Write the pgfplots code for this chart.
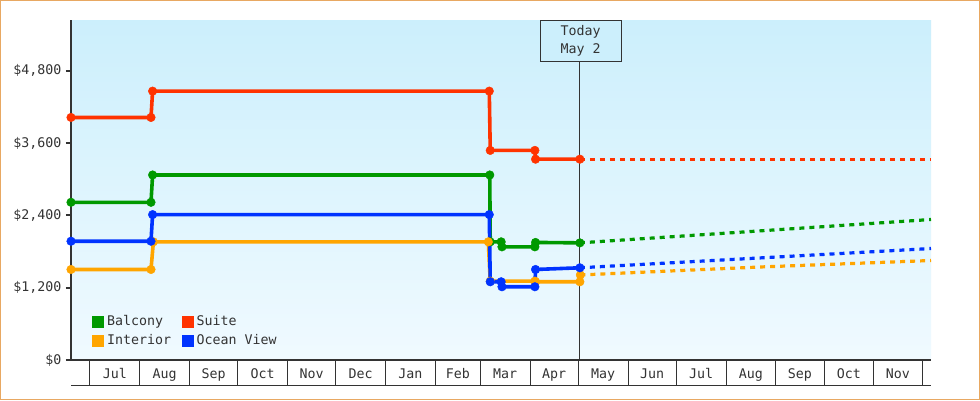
\documentclass[border=0pt]{standalone}
\usepackage{fontspec}
\setmainfont{DejaVu Sans Mono}
\usepackage{pgfplots}
\usepackage{pgfplotstable}
\pgfplotsset{compat=1.18}

\definecolor{axcol}{HTML}{333333}
\definecolor{cgreen}{HTML}{009900}
\definecolor{cred}{HTML}{FF3300}
\definecolor{corange}{HTML}{FFA500}
\definecolor{cblue}{HTML}{0033FF}
\definecolor{bgtop}{HTML}{CCEFFC}
\definecolor{bgbot}{HTML}{F0FAFF}
\definecolor{framecol}{HTML}{E8A862}
\newcommand\fs{\fontsize{13.3}{18}\selectfont}

% x = days since Jul 1, y = price in dollars
\pgfplotstableread{
x y
-11.8 2618
38 2618
39 3072
248.9 3072
249.2 1962
256 1962
256.5 1879
277 1879
277.4 1952
305 1945
}\balcony
\pgfplotstableread{
x y
-11.8 4027
38 4027
39 4464
248.6 4464
249.2 3480
277 3480
277.4 3334
305 3334
}\suite
\pgfplotstableread{
x y
-11.8 1503
38 1503
39.5 1962
248 1962
249.2 1309
277 1309
277.4 1299
305 1299
305.3 1412
}\interior
\pgfplotstableread{
x y
-11.8 1972
38 1972
39 2414
248.6 2414
249.2 1299
256 1299
256.5 1216
277 1216
277.4 1503
305 1531
}\ocean
% projections after today
\pgfplotstableread{
x y
305 1945
411 2133
523.6 2333
}\balconyp
\pgfplotstableread{
x y
305 3334
523.6 3334
}\suitep
\pgfplotstableread{
x y
305.3 1412
418 1545
523.6 1652
}\interiorp
\pgfplotstableread{
x y
305 1531
429.6 1713
523.6 1851
}\oceanp

\begin{document}
\fs
\begin{tikzpicture}
\fill[white] (0,0) rectangle (980pt,400pt);
\draw[framecol, line width=1pt] (0.5pt,0.5pt) rectangle (979.5pt,399.5pt);

% month band under the plot
\begin{axis}[
    at={(71pt,15pt)}, anchor=south west,
    scale only axis, width=860pt, height=25pt,
    xmin=-11.8, xmax=523.6, ymin=0, ymax=1,
    axis x line=bottom, axis y line=none,
    axis line style={-, line width=1pt, draw=axcol},
    xtick={0,31,62,92,123,153,184,215,243,274,304,335,365,396,427,457,488,518},
    xticklabels={Jul,Aug,Sep,Oct,Nov,Dec,Jan,Feb,Mar,Apr,May,Jun,Jul,Aug,Sep,Oct,Nov},
    x tick label as interval,
    tick align=inside, major tick length=25pt,
    xtick style={line width=1pt, draw=axcol},
    xticklabel style={anchor=base, yshift=7pt, font=\fs, text=axcol},
]
\addplot[draw=none, forget plot] coordinates {(0,0) (518,1)};
\end{axis}

\begin{axis}[
    at={(71pt,40pt)}, anchor=south west,
    scale only axis, width=860pt, height=340pt,
    xmin=-11.8, xmax=523.6, ymin=0, ymax=5645,
    enlargelimits=false, clip=false,
    axis background/.style={top color=bgtop, bottom color=bgbot},
    axis lines=left,
    axis line style={-, line width=2pt, draw=axcol},
    xtick=\empty,
    ytick={0,1200,2400,3600,4800},
    yticklabels={\$0,{\$1,200},{\$2,400},{\$3,600},{\$4,800}},
    tick align=outside, major tick length=5pt,
    ytick style={line width=2pt, draw=axcol},
    yticklabel style={font=\fs, text=axcol},
    legend columns=2,
    legend cell align=left,
    legend style={at={(0.021,0.028)}, anchor=south west, draw=none, fill=none,
        font=\fs, text=axcol, row sep=4pt,
        nodes={inner sep=1.5pt},
        /tikz/every odd column/.append style={column sep=2pt},
        /tikz/every even column/.append style={column sep=9pt}},
    legend image code/.code={\fill[#1] (0pt,-5.3pt) rectangle (11pt,5.3pt);},
]
\draw[axcol, line width=1pt] (axis cs:305,0) -- (axis cs:305,5000);
\node[draw=axcol, line width=1pt, fill=bgtop, anchor=north, align=center,
      minimum width=81pt, minimum height=41pt, inner sep=2pt, text=axcol,
      font=\fs] at (axis cs:305.5,5645) {Today\\May 2};

\addplot[forget plot, cgreen, line width=3.6pt] table {\balcony};
\addplot[forget plot, cred, line width=3.6pt] table {\suite};
\addplot[forget plot, corange, line width=3.6pt] table {\interior};
\addplot[forget plot, cblue, line width=3.6pt] table {\ocean};

\addplot[forget plot, cgreen, line width=3.2pt, dash pattern=on 5pt off 5pt] table {\balconyp};
\addplot[forget plot, cred, line width=3.2pt, dash pattern=on 5pt off 5pt] table {\suitep};
\addplot[forget plot, corange, line width=3.2pt, dash pattern=on 5pt off 5pt] table {\interiorp};
\addplot[forget plot, cblue, line width=3.2pt, dash pattern=on 5pt off 5pt] table {\oceanp};

\addplot[only marks, mark=*, mark size=4.3pt, cgreen] table {\balcony};
\addplot[only marks, mark=*, mark size=4.3pt, cred] table {\suite};
\addplot[only marks, mark=*, mark size=4.3pt, corange] table {\interior};
\addplot[only marks, mark=*, mark size=4.3pt, cblue] table {\ocean};
\legend{Balcony, Suite, Interior, Ocean View}
\end{axis}
\end{tikzpicture}
\end{document}
